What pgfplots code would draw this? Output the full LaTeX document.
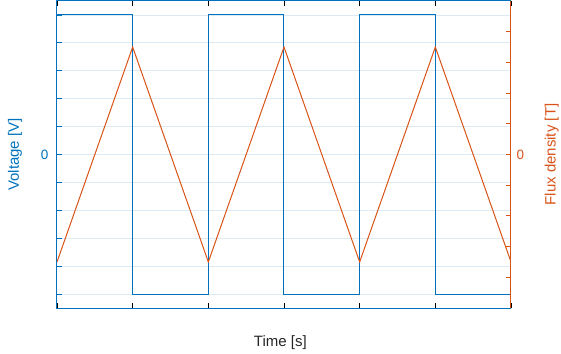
\documentclass[border=0pt]{standalone}
\usepackage{pgfplots}
\pgfplotsset{compat=1.18}
\usepackage{fontspec}
\setmainfont{Liberation Sans}
\definecolor{mblue}{HTML}{0072BD}
\definecolor{morange}{HTML}{D95319}
\definecolor{mgrid}{HTML}{DCEAF5}
\definecolor{mgray}{HTML}{262626}
\begin{document}
\begin{tikzpicture}
\useasboundingbox (-57bp,-46bp) rectangle (504bp,308bp);
\begin{axis}[
  scale only axis, width=454bp, height=307bp,
  at={(0,0)}, anchor=south west,
  xmin=0, xmax=6, ymin=-5.5, ymax=5.5,
  xtick={0,1,2,3,4,5,6}, xticklabels={},
  ytick={-5,-4,-3,-2,-1,0,1,2,3,4,5},
  yticklabels={{},{},{},{},{},0,{},{},{},{},{}},
  ytick pos=left, xtick pos=both,
  tick align=inside,
  major tick length=5bp,
  x axis line style={draw=gray, line width=1bp},
  y axis line style={draw=mblue, line width=1bp},
  x tick style={draw=black, line width=0.6bp},
  y tick style={draw=mblue, line width=0.8bp},
  ymajorgrids, grid style={draw=mgrid, line width=0.8bp},
  yticklabel style={font=\fontsize{13.5bp}{16bp}\selectfont, text=mblue, xshift=-5bp},
  xlabel={Time [s]},
  xlabel style={at={(axis description cs:0.492,-0.114)}, anchor=center, text=mgray, font=\fontsize{15bp}{18bp}\selectfont},
  ylabel={Voltage [V]},
  ylabel style={at={(axis description cs:-0.0925,0.5)}, anchor=center, rotate=0, text=mblue, font=\fontsize{15bp}{18bp}\selectfont},
]
\addplot[const plot, draw=mblue, line width=1bp] coordinates {
  (0,5) (1,-5) (2,5) (3,-5) (4,5) (5,-5) (6,-5)
};
\end{axis}
\begin{axis}[
  scale only axis, width=454bp, height=307bp,
  at={(0,0)}, anchor=south west,
  xmin=0, xmax=6, ymin=-5, ymax=5,
  axis x line=none, axis y line*=right,
  xtick=\empty,
  ytick={-4,-3,-2,-1,0,1,2,3,4},
  yticklabels={{},{},{},{},0,{},{},{},{}},
  tick align=inside,
  major tick length=5bp,
  y axis line style={draw=morange, line width=1bp, -},
  y tick style={draw=morange, line width=0.8bp},
  yticklabel style={font=\fontsize{13.5bp}{16bp}\selectfont, text=morange, xshift=2bp},
  ylabel={Flux density [T]},
  ylabel style={at={(axis description cs:1.0896,0.5)}, anchor=center, rotate=0, text=morange, font=\fontsize{15bp}{18bp}\selectfont},
]
\addplot[draw=morange, line width=1bp] coordinates {
  (0,-3.5) (1,3.5) (2,-3.5) (3,3.5) (4,-3.5) (5,3.5) (6,-3.5)
};
\end{axis}
\end{tikzpicture}
\end{document}
